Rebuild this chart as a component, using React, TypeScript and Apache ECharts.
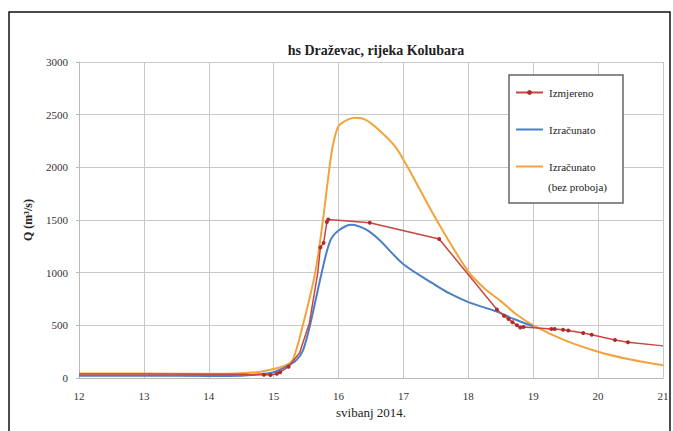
import React, { useEffect, useRef } from "react";
import * as echarts from "echarts";

const title = "hs Draževac, rijeka Kolubara";
const yName = "Q (m³/s)";
const xName = "svibanj 2014.";
const names = ["Izmjereno", "Izračunato", "Izračunato (bez proboja)"];

// Izmjereno (measured)
const redX = [12, 12.5, 13, 13.5, 14, 14.5, 14.85, 14.95, 15.05, 15.1, 15.23, 15.4, 15.55, 15.68, 15.72, 15.77, 15.82, 15.84, 16.48, 17.55, 18.44, 18.55, 18.62, 18.68, 18.75, 18.8, 18.85, 19.28, 19.33, 19.46, 19.54, 19.77, 19.9, 20.26, 20.46, 21];
const redY = [38, 38, 38, 37, 36, 35, 30, 28, 40, 55, 107, 240, 520, 1000, 1240, 1283, 1480, 1505, 1473, 1320, 650, 590, 560, 530, 500, 480, 485, 465, 465, 458, 450, 428, 410, 360, 340, 305];
const redMarked = [false, false, false, false, false, false, true, true, true, true, true, false, false, false, true, true, true, true, true, true, true, true, true, true, true, true, true, true, true, true, true, true, true, true, true, false];

// Izračunato (computed)
const blueX = [12, 13, 14, 14.5, 14.8, 15.0, 15.2, 15.35, 15.45, 15.56, 15.74, 15.87, 16.0, 16.2, 16.42, 16.63, 17.0, 17.5, 17.72, 18.0, 18.44, 18.7, 19.0];
const blueY = [22, 22, 20, 22, 35, 55, 110, 170, 260, 500, 1000, 1300, 1400, 1455, 1410, 1310, 1080, 880, 800, 720, 630, 560, 490];

// Izračunato (bez proboja)
const orangeX = [12, 13, 14, 14.5, 14.8, 15.0, 15.2, 15.3, 15.45, 15.64, 15.76, 15.84, 15.91, 16.0, 16.15, 16.27, 16.42, 16.63, 16.87, 17.05, 17.51, 18.0, 18.25, 18.5, 18.75, 19.0, 19.5, 20.0, 20.5, 21.0];
const orangeY = [42, 42, 40, 45, 60, 85, 125, 180, 500, 1000, 1500, 1900, 2200, 2390, 2455, 2470, 2450, 2350, 2200, 2020, 1500, 1010, 850, 730, 600, 500, 355, 250, 175, 120];

const FONT = "Times New Roman";

export default function App() {
  const ref = useRef<HTMLDivElement>(null);
  useEffect(() => {
    document.body.style.margin = "0";
    const chart = echarts.init(ref.current!, null, { renderer: "svg" });
    const redData = redX.map((x, i) =>
      redMarked[i] ? [x, redY[i]] : { value: [x, redY[i]], symbol: "none" }
    );
    chart.setOption({
      animation: false,
      backgroundColor: "#ffffff",
      textStyle: { fontFamily: FONT },
      title: {
        text: title,
        left: 371,
        top: 38,
        textAlign: "center",
        textStyle: { fontFamily: FONT, fontSize: 14, fontWeight: "bold", color: "#222" },
      },
      grid: { left: 79, right: 10, top: 62, bottom: 53 },
      xAxis: {
        type: "value",
        min: 12,
        max: 21,
        interval: 1,
        name: xName,
        nameLocation: "middle",
        nameGap: 19,
        nameTextStyle: { fontFamily: FONT, fontSize: 13, color: "#222" },
        axisLine: { lineStyle: { color: "#b8b8b8" } },
        axisTick: { show: false },
        axisLabel: { fontFamily: FONT, fontSize: 11, color: "#333", margin: 12 },
        splitLine: { lineStyle: { color: "#c8c8c8" } },
      },
      yAxis: {
        type: "value",
        min: 0,
        max: 3000,
        interval: 500,
        name: yName,
        nameLocation: "middle",
        nameGap: 45,
        nameTextStyle: { fontFamily: FONT, fontSize: 12, fontWeight: "bold", color: "#222" },
        axisLine: { show: true, lineStyle: { color: "#b8b8b8" } },
        axisTick: { show: true, length: 3, lineStyle: { color: "#b8b8b8" } },
        axisLabel: {
          fontFamily: FONT,
          fontSize: 11,
          color: "#333",
          margin: 11,
          formatter: (v: number) => String(v),
        },
        splitLine: { lineStyle: { color: "#c8c8c8" } },
      },
      legend: {
        left: 509,
        top: 75,
        orient: "vertical",
        padding: [8, 8, 8, 6],
        itemGap: 18,
        itemWidth: 27,
        itemHeight: 6,
        data: [
          { name: names[0] },
          { name: names[1], itemStyle: { opacity: 0 } },
          { name: names[2], itemStyle: { opacity: 0 } },
        ],
        formatter: (n: string) => (n === names[2] ? "Izračunato" : n),
        textStyle: { fontFamily: FONT, fontSize: 11, color: "#222", lineHeight: 19, padding: [0, 0, 0, 1] },
        z: 10,
      },
      graphic: [
        {
          type: "rect",
          shape: { x: 9, y: 12, width: 661, height: 440 },
          style: { fill: "none", stroke: "#111", lineWidth: 1.5 },
          silent: true,
        },
        {
          type: "rect",
          shape: { x: 509, y: 75, width: 114, height: 128 },
          style: { fill: "#fff", stroke: "#666", lineWidth: 1.5 },
          z: 5,
          silent: true,
        },
        {
          type: "text",
          x: 548,
          y: 187,
          style: {
            text: "(bez proboja)",
            fontFamily: FONT,
            fontSize: 11,
            fill: "#222",
            verticalAlign: "middle",
          },
          z: 11,
          silent: true,
        },
      ],
      series: [
        {
          name: names[0],
          type: "line",
          data: redData,
          symbol: "circle",
          symbolSize: 4,
          lineStyle: { color: "#c9453f", width: 1.5 },
          itemStyle: { color: "#b02a2a" },
          z: 4,
        },
        {
          name: names[1],
          type: "line",
          data: blueX.map((x, i) => [x, blueY[i]]),
          smooth: 0.3,
          showSymbol: false,
          symbol: "none",
          lineStyle: { color: "#4a7fc6", width: 2 },
          itemStyle: { color: "#4a7fc6" },
          z: 3,
        },
        {
          name: names[2],
          type: "line",
          data: orangeX.map((x, i) => [x, orangeY[i]]),
          smooth: 0.3,
          showSymbol: false,
          symbol: "none",
          lineStyle: { color: "#f2a33c", width: 2 },
          itemStyle: { color: "#f2a33c" },
          z: 2,
        },
      ],
    });
    return () => chart.dispose();
  }, []);
  return (
    <div
      ref={ref}
      style={{ position: "fixed", left: 0, top: 0, width: 673, height: 431, background: "#fff" }}
    />
  );
}
